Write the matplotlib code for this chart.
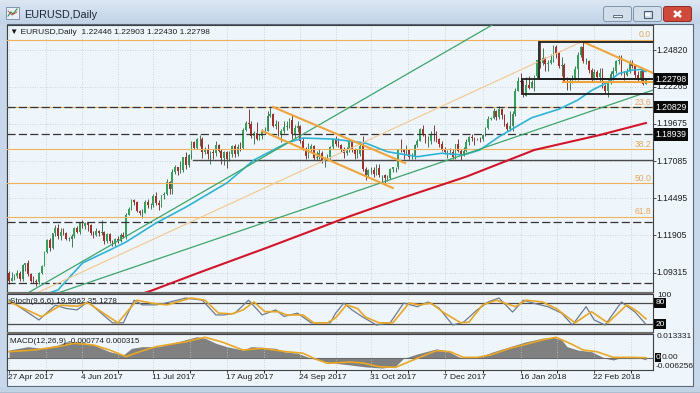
import numpy as np
import pandas as pd
import matplotlib
matplotlib.use("Agg")
import matplotlib.pyplot as plt
from matplotlib.patches import Rectangle, FancyBboxPatch
from matplotlib.colors import LinearSegmentedColormap

plt.rcParams['font.family'] = ['Liberation Sans', 'DejaVu Sans']

# ---------------- data ----------------
DATE_START, DATE_END = "2017-04-27", "2018-03-21"

# prices in 1/10000 (e.g. 10875 = 1.0875)
OPEN = [10930, 10875,
 10895, 10905, 10930, 10885, 10985, 11000, 10925, 10875, 10870, 10865, 10932, 10980, 11075, 11160, 11100, 11205, 11245, 11185, 11215, 11210, 11165, 11165, 11185,
 11240, 11215, 11280, 11255, 11275, 11260, 11210, 11195, 11220, 11210, 11215, 11150, 11200, 11150, 11130, 11165, 11150, 11195, 11180, 11335, 11375, 11440,
 11425, 11360, 11345, 11350, 11425, 11400, 11400, 11465, 11415, 11400, 11470, 11480, 11560, 11515, 11630, 11665, 11640, 11645, 11735, 11680, 11750,
 11840, 11800, 11860, 11865, 11775, 11790, 11755, 11770, 11765, 11820, 11780, 11730, 11770, 11725, 11760, 11815, 11760, 11810, 11800, 11925, 11975, 11970, 11885,
 11905, 11860, 11885, 11915, 11920, 12025, 12035, 11955, 11965, 11890, 11920, 11945, 11950, 11995, 11895, 11940, 11950, 11850, 11790, 11745, 11785,
 11815, 11730, 11735, 11765, 11710, 11730, 11735, 11805, 11860, 11825, 11820, 11795, 11765, 11785, 11845, 11785, 11760, 11760, 11815, 11650, 11610, 11645,
 11645, 11620, 11660, 11610, 11610, 11590, 11590, 11650, 11665, 11665, 11795, 11790, 11770, 11790, 11735, 11735, 11820, 11850, 11935, 11895, 11845, 11845,
 11900, 11895, 11865, 11825, 11795, 11770, 11770, 11775, 11740, 11825, 11780, 11750, 11780, 11840, 11875, 11870, 11860, 11865, 11860, 11890, 11940,
 12005, 12010, 12060, 12015, 12070, 12030, 11965, 11935, 11950, 12035, 12200, 12265, 12260, 12160, 12235, 12220, 12260, 12300, 12410, 12395, 12425, 12385, 12395,
 12415, 12505, 12460, 12370, 12380, 12265, 12255, 12255, 12290, 12350, 12450, 12505, 12405, 12405, 12340, 12285, 12330, 12295, 12320, 12230,
 12195, 12265, 12315, 12335, 12405, 12410, 12310, 12305, 12335, 12390, 12370, 12305, 12285, 12335, 12245]

HIGH = [10945, 10935,
 10920, 10950, 10940, 10990, 11000, 11022, 10930, 10905, 10885, 10935, 10985, 11085, 11165, 11170, 11210, 11265, 11270, 11240, 11240, 11215, 11180, 11200, 11250,
 11255, 11285, 11295, 11285, 11285, 11270, 11220, 11240, 11230, 11295, 11220, 11210, 11210, 11160, 11175, 11190, 11210, 11215, 11345, 11390, 11445, 11445,
 11430, 11370, 11375, 11435, 11445, 11420, 11480, 11490, 11435, 11475, 11490, 11585, 11570, 11655, 11680, 11670, 11710, 11740, 11775, 11760, 11845,
 11845, 11870, 11890, 11875, 11810, 11830, 11780, 11790, 11845, 11830, 11790, 11780, 11780, 11780, 11820, 11830, 11825, 11840, 11940, 11985, 12070, 11985, 11915,
 11980, 11900, 11930, 11945, 12060, 12092, 12040, 11995, 11985, 11935, 11990, 11990, 12010, 12035, 11960, 11985, 11960, 11870, 11805, 11835, 11830,
 11820, 11780, 11790, 11780, 11735, 11755, 11815, 11865, 11880, 11870, 11830, 11810, 11810, 11860, 11855, 11800, 11790, 11830, 11880, 11665, 11655, 11670,
 11670, 11690, 11690, 11615, 11620, 11610, 11660, 11665, 11670, 11795, 11860, 11795, 11820, 11795, 11765, 11830, 11860, 11940, 11960, 11900, 11880, 11920,
 11960, 11915, 11870, 11845, 11805, 11785, 11800, 11790, 11830, 11865, 11790, 11810, 11860, 11880, 11895, 11875, 11870, 11875, 11900, 11945, 12020,
 12015, 12080, 12065, 12090, 12080, 12035, 11980, 12055, 12060, 12215, 12295, 12325, 12275, 12295, 12300, 12270, 12310, 12415, 12537, 12495, 12435, 12415, 12455,
 12520, 12520, 12470, 12430, 12395, 12295, 12290, 12310, 12370, 12470, 12510, 12555, 12425, 12410, 12360, 12350, 12345, 12355, 12355, 12245,
 12275, 12335, 12365, 12415, 12445, 12445, 12335, 12355, 12410, 12415, 12385, 12335, 12355, 12345, 12290]

LOW = [10850, 10870,
 10880, 10895, 10870, 10875, 10945, 10910, 10865, 10860, 10840, 10855, 10925, 10975, 11070, 11085, 11095, 11190, 11165, 11160, 11195, 11160, 11150, 11110, 11175,
 11205, 11200, 11240, 11235, 11225, 11195, 11170, 11185, 11190, 11195, 11130, 11135, 11140, 11120, 11120, 11140, 11145, 11170, 11165, 11330, 11370, 11400,
 11355, 11335, 11310, 11345, 11385, 11375, 11390, 11400, 11370, 11390, 11445, 11475, 11480, 11480, 11620, 11610, 11625, 11630, 11655, 11670, 11720,
 11795, 11790, 11815, 11730, 11760, 11720, 11690, 11720, 11745, 11770, 11690, 11680, 11660, 11710, 11735, 11740, 11745, 11780, 11790, 11915, 11940, 11870, 11825,
 11855, 11855, 11860, 11900, 11915, 12015, 11945, 11935, 11880, 11840, 11905, 11925, 11940, 11865, 11860, 11910, 11835, 11785, 11720, 11730, 11775,
 11715, 11715, 11725, 11695, 11670, 11715, 11720, 11795, 11815, 11805, 11770, 11730, 11750, 11775, 11775, 11725, 11730, 11745, 11640, 11575, 11600, 11620,
 11600, 11615, 11600, 11560, 11555, 11570, 11585, 11630, 11630, 11655, 11775, 11720, 11755, 11720, 11725, 11725, 11810, 11845, 11885, 11835, 11810, 11830,
 11850, 11840, 11805, 11780, 11760, 11730, 11760, 11720, 11725, 11770, 11715, 11745, 11775, 11820, 11845, 11820, 11855, 11840, 11850, 11880, 11935,
 11995, 12005, 11995, 12005, 12000, 11955, 11915, 11920, 11920, 12025, 12195, 12245, 12155, 12160, 12210, 12215, 12200, 12290, 12360, 12375, 12335, 12335, 12385,
 12400, 12425, 12355, 12300, 12260, 12205, 12205, 12250, 12275, 12270, 12430, 12395, 12385, 12320, 12260, 12275, 12285, 12265, 12220, 12185,
 12155, 12245, 12275, 12325, 12385, 12305, 12270, 12300, 12320, 12360, 12290, 12260, 12260, 12240, 12243]

CLOSE = [10875, 10895,
 10905, 10930, 10885, 10985, 10998, 10925, 10875, 10870, 10865, 10932, 10980, 11075, 11160, 11100, 11205, 11245, 11185, 11215, 11210, 11165, 11165, 11185, 11240,
 11215, 11280, 11255, 11275, 11260, 11210, 11195, 11220, 11210, 11215, 11150, 11200, 11150, 11130, 11165, 11150, 11195, 11180, 11335, 11375, 11440, 11425,
 11360, 11345, 11350, 11425, 11400, 11400, 11465, 11415, 11400, 11470, 11480, 11560, 11515, 11630, 11665, 11640, 11645, 11735, 11680, 11750, 11840,
 11800, 11860, 11865, 11775, 11790, 11755, 11770, 11765, 11820, 11780, 11730, 11770, 11725, 11760, 11815, 11760, 11810, 11800, 11925, 11975, 11970, 11885, 11905,
 11860, 11885, 11915, 11920, 12025, 12035, 11955, 11965, 11890, 11920, 11945, 11950, 11995, 11895, 11940, 11950, 11850, 11790, 11745, 11785, 11815,
 11730, 11735, 11765, 11710, 11730, 11735, 11805, 11860, 11825, 11820, 11795, 11765, 11785, 11845, 11785, 11760, 11760, 11815, 11650, 11610, 11645, 11645,
 11620, 11660, 11610, 11610, 11590, 11590, 11650, 11665, 11665, 11795, 11790, 11770, 11790, 11735, 11735, 11820, 11850, 11935, 11895, 11845, 11845, 11900,
 11895, 11865, 11825, 11795, 11770, 11770, 11775, 11740, 11825, 11780, 11750, 11780, 11840, 11875, 11870, 11860, 11865, 11860, 11890, 11940, 12005,
 12010, 12060, 12015, 12070, 12030, 11965, 11935, 11950, 12035, 12200, 12265, 12260, 12160, 12235, 12220, 12260, 12300, 12410, 12395, 12425, 12385, 12395, 12415,
 12505, 12460, 12370, 12380, 12265, 12255, 12255, 12290, 12350, 12450, 12505, 12405, 12405, 12340, 12285, 12330, 12295, 12320, 12230, 12195,
 12265, 12315, 12335, 12405, 12410, 12310, 12305, 12335, 12390, 12370, 12305, 12285, 12335, 12245, 12280]

HEADER_OHLC = "1.22446 1.22903 1.22430 1.22798"

# moving averages (bar number, value)
MA_FAST_BAR = [14, 18, 27, 37, 43, 54, 65, 80, 90, 102, 108, 119, 131, 139, 150, 159, 167, 173, 180, 192, 202, 209, 214, 220, 224, 229, 232, 234]
MA_FAST_VAL = [1.0785, 1.0811, 1.0999, 1.1089, 1.1145, 1.1277, 1.1388, 1.1556, 1.1716, 1.1834, 1.1869, 1.1862, 1.1834, 1.1774,
               1.1739, 1.1763, 1.1751, 1.1786, 1.1878, 1.2010, 1.2070, 1.2134, 1.2200, 1.2258, 1.2318, 1.2342, 1.2347, 1.2332]
MA_SLOW_BAR = [48, 52, 70, 95, 112, 125, 144, 168, 193, 217, 234]
MA_SLOW_VAL = [1.0780, 1.0804, 1.0933, 1.1107, 1.1229, 1.1323, 1.1449, 1.1600, 1.1786, 1.1890, 1.1974]

STOCH_K_BAR = [0, 11, 17, 21, 25, 29, 38, 42, 46, 49, 54, 57, 65, 71, 76, 79, 83, 88, 93, 98, 101, 106, 111, 118, 120, 123, 126,
               130, 135, 140, 145, 150, 154, 158, 163, 167, 172, 176, 180, 185, 189, 193, 198, 203, 207, 212, 215, 219, 225, 230, 234]
STOCH_K_VAL = [88, 32, 73, 64, 60, 83, 24, 24, 87, 74, 74, 78, 93, 87, 46, 46, 51, 87, 46, 60, 42, 51, 24, 24, 51, 79, 60,
               40, 18, 24, 79, 69, 82, 65, 18, 26, 60, 82, 93, 54, 87, 78, 69, 51, 18, 69, 32, 18, 82, 54, 20]
STOCH_D_BAR = [0, 12, 19, 25, 29, 40, 47, 53, 58, 67, 72, 77, 82, 86, 90, 94, 99, 102, 108, 112, 117, 120, 124, 128, 131, 136,
               141, 147, 151, 155, 160, 166, 169, 174, 179, 186, 190, 196, 201, 208, 214, 220, 227, 231, 234]
STOCH_D_VAL = [83, 41, 73, 70, 80, 24, 87, 78, 74, 93, 87, 51, 49, 60, 82, 55, 55, 46, 46, 24, 24, 38, 74, 64, 40, 24,
               24, 79, 74, 79, 51, 24, 26, 74, 87, 69, 87, 82, 64, 24, 55, 24, 74, 55, 35]

MACD_BAR = [0, 7, 12, 18, 21, 26, 31, 37, 42, 45, 49, 55, 62, 69, 72, 76, 80, 86, 89, 98, 101, 106, 111, 115, 120, 125, 131,
            137, 142, 145, 150, 157, 161, 165, 167, 172, 178, 184, 190, 196, 200, 203, 205, 209, 214, 219, 222, 226, 232, 234]
MACD_VAL = [0.0044, 0.0062, 0.0053, 0.0071, 0.0088, 0.0088, 0.0071, 0.0035, 0.0018, 0.0053, 0.0062, 0.0062, 0.0088, 0.0115,
            0.0107, 0.0080, 0.0062, 0.0044, 0.0062, 0.0053, 0.0035, 0.0027, 0.0000, -0.0015, -0.0027, -0.0035, -0.0046,
            -0.0052, -0.0042, 0.0000, 0.0023, 0.0050, 0.0040, 0.0009, 0.0000, 0.0005, 0.0035, 0.0062, 0.0088, 0.0107,
            0.0112, 0.0098, 0.0062, 0.0044, 0.0035, 0.0000, -0.0009, 0.0009, 0.0000, -0.0008]
SIGNAL_BAR = [0, 9, 18, 24, 31, 37, 43, 48, 54, 65, 72, 78, 86, 93, 102, 108, 112, 117, 125, 130, 136, 142, 150, 157, 162,
              167, 172, 177, 184, 189, 196, 201, 206, 211, 216, 222, 229, 234]
SIGNAL_VAL = [0.0035, 0.0044, 0.0062, 0.0080, 0.0071, 0.0044, 0.0009, 0.0035, 0.0062, 0.0088, 0.0112, 0.0088, 0.0044, 0.0053,
              0.0035, 0.0027, 0.0000, -0.0027, -0.0020, -0.0025, -0.0045, -0.0048, 0.0000, 0.0041, 0.0035, 0.0005, 0.0005,
              0.0018, 0.0053, 0.0071, 0.0098, 0.0112, 0.0080, 0.0044, 0.0035, 0.0005, 0.0005, 0.0003]

DATE_LABELS = ["27 Apr 2017", "4 Jun 2017", "11 Jul 2017", "17 Aug 2017", "24 Sep 2017",
               "31 Oct 2017", "7 Dec 2017", "16 Jan 2018", "22 Feb 2018"]
PRICE_TICKS = [1.24820, 1.22265, 1.19675, 1.17085, 1.14495, 1.11905, 1.09315]
MARKED_PRICES = [1.22798, 1.20829, 1.18939]

FIB_HIGH, FIB_LOW = 1.2555, 1.0555
FIB_LEVELS = [0.0, 23.6, 38.2, 50.0, 61.8]
DASHED_LEVELS = [1.20829, 1.18939, 1.1286, 1.0856]
SUPPORT_LEVEL, SUPPORT_FROM_BAR = 1.1713, 67.6

# drawn objects: (bar numbers), (prices)
GREEN_STEEP = ([5, 190], [1.0769, 1.2793])
GREEN_LOW = ([18, 240], [1.0790, 1.2225])
TAN_LINE = ([5, 211], [1.0745, 1.2545])
CHANNEL_UP = ([97, 145.5], [1.2085, 1.1695])
CHANNEL_DN = ([93, 141], [1.1918, 1.1521])
TRI_UP = ([211, 240], [1.2538, 1.2293])
TRI_DN = ([203.5, 240], [1.2257, 1.2257])
BOX_A = (194.7, 1.2278, 1.2538)   # left bar, bottom, top
BOX_B = (188.5, 1.2176, 1.2278)

STOCH_LEVELS = [20, 80]

# ---------------- layout ----------------
W, H = 700, 393
PX0, PXB = 9.0, 2.722       # pixel of bar 0, pixels per bar
BG = '#eef5fb'


def fx(px):
    return px / W


def fy(py):
    return 1 - py / H


N = min(len(OPEN), len(HIGH), len(LOW), len(CLOSE))
dates = pd.bdate_range(DATE_START, DATE_END)[:N]
o = np.array(OPEN[:N]) / 1e4
h = np.array(HIGH[:N]) / 1e4
l = np.array(LOW[:N]) / 1e4
c = np.array(CLOSE[:N]) / 1e4
idx = np.arange(N)

label_bars = [int(dates.searchsorted(pd.Timestamp(d))) for d in DATE_LABELS]
grid_bars = []
for a, b in zip(label_bars, label_bars[1:] + [label_bars[-1] + (label_bars[-1] - label_bars[-2])]):
    grid_bars += [a, (a + b) / 2]

xlim = ((7 - PX0) / PXB, (653 - PX0) / PXB)

fig = plt.figure(figsize=(7.0, 3.93), dpi=100)
fig.patch.set_facecolor('#c8d7e9')

# background / frame axes in pixel coordinates
axb = fig.add_axes([0, 0, 1, 1], zorder=-5)
axb.set_xlim(0, W)
axb.set_ylim(H, 0)
axb.axis('off')
grad = np.linspace(0, 1, 50).reshape(-1, 1)
axb.imshow(grad, aspect='auto', extent=[0, W, 24, 0],
           cmap=LinearSegmentedColormap.from_list('t', ['#dbe6f2', '#c2d3e7']), zorder=0)
axb.add_patch(Rectangle((6.5, 24), 686, 362, facecolor=BG, edgecolor='#59687a', lw=0.8, zorder=1))
axb.add_patch(Rectangle((0, 387), W, 6, facecolor='#c3d3e6', edgecolor='none', zorder=1))
axb.plot([0, W], [392.5, 392.5], color='#4e6a80', lw=1.0, zorder=2)

# ---------------- main price pane ----------------
ax = fig.add_axes([fx(7), fy(292), fx(653) - fx(7), fy(25) - fy(292)])
ax.set_facecolor(BG)
ax.set_xlim(*xlim)
ax.set_ylim(1.07968, 1.26562)

ax.set_yticks(PRICE_TICKS)
ax.set_xticks(grid_bars)
ax.tick_params(axis='y', left=False, right=True, labelleft=False, labelright=False, length=2.5, color='#303030', width=0.6)
ax.tick_params(axis='x', bottom=False, labelbottom=False)
ax.grid(True, color='#bfc9d4', lw=0.6, ls=(0, (1, 2)))
for s in ax.spines.values():
    s.set_color('#404040')
    s.set_linewidth(0.8)

up = c >= o
body = np.maximum(np.abs(c - o), 0.00012)
bot = np.minimum(o, c)
ax.vlines(idx[up], l[up], h[up], color='#23653b', lw=0.6, zorder=4)
ax.vlines(idx[~up], l[~up], h[~up], color='#6a211d', lw=0.6, zorder=4)
ax.bar(idx[up], body[up], bottom=bot[up], width=0.62, color='#35a05a', lw=0, zorder=5)
ax.bar(idx[~up], body[~up], bottom=bot[~up], width=0.62, color='#a3302a', lw=0, zorder=5)

# fibonacci levels
for lv in FIB_LEVELS:
    p = FIB_HIGH - lv / 100 * (FIB_HIGH - FIB_LOW)
    ax.axhline(p, color='#f1b25c', lw=0.8, zorder=6)
    ax.text(0.997, p + 0.0004, f"{lv:.1f}", transform=ax.get_yaxis_transform(), ha='right', va='bottom',
            fontsize=6.2, color='#e8a85c', zorder=9)

for p in DASHED_LEVELS:
    ax.axhline(p, color='#333333', lw=0.9, ls=(0, (6.5, 2.6)), zorder=7)
ax.plot([SUPPORT_FROM_BAR, xlim[1]], [SUPPORT_LEVEL, SUPPORT_LEVEL], color='#4a4a4a', lw=1.0, zorder=7)

# moving averages
ax.plot(MA_FAST_BAR, MA_FAST_VAL, color='#2fb3d6', lw=1.2, zorder=8, solid_capstyle='round')
ax.plot(MA_SLOW_BAR, MA_SLOW_VAL, color='#d2162a', lw=1.5, zorder=8)

# trendlines and objects
ax.plot(*GREEN_STEEP, color='#3ea56b', lw=0.9, zorder=8)
ax.plot(*GREEN_LOW, color='#3ea56b', lw=0.9, zorder=8)
ax.plot(*TAN_LINE, color='#f2c88c', lw=0.8, zorder=8)
ax.plot(*CHANNEL_UP, color='#f0a53c', lw=1.5, zorder=9)
ax.plot(*CHANNEL_DN, color='#f0a53c', lw=1.5, zorder=9)
ax.plot(*TRI_UP, color='#f0a53c', lw=1.5, zorder=9)
ax.plot(*TRI_DN, color='#f0a53c', lw=1.5, zorder=9)
for bx in (BOX_A, BOX_B):
    ax.add_patch(Rectangle((bx[0], bx[1]), 60, bx[2] - bx[1], fill=False, edgecolor='#1e1e1e', lw=1.3, zorder=9))

ytr = ax.get_yaxis_transform()
for p in PRICE_TICKS:
    ax.text(1.006, p, f"{p:.5f}", transform=ytr, ha='left', va='center', fontsize=6.2, color='#1e1e1e', clip_on=False)
for p in MARKED_PRICES:
    ax.text(1.004, p, f"{p:.5f}", transform=ytr, ha='left', va='center', fontsize=6.2, color='white', clip_on=False,
            bbox=dict(facecolor='#0a0a0a', edgecolor='none', pad=1.2), zorder=20)

# ---------------- stochastic pane ----------------
axs = fig.add_axes([fx(7), fy(332), fx(653) - fx(7), (332 - 294) / H])
axs.set_facecolor(BG)
axs.set_xlim(*xlim)
axs.set_ylim(-1.4, 104.2)
axs.set_xticks(grid_bars)
axs.set_yticks([])
axs.tick_params(axis='x', bottom=False, labelbottom=False)
axs.grid(True, axis='x', color='#bfc9d4', lw=0.6, ls=(0, (1, 2)))
for s in axs.spines.values():
    s.set_color('#404040')
    s.set_linewidth(0.8)
for lv in STOCH_LEVELS:
    axs.axhline(lv, color='#4a4a4a', lw=0.9)
axs.plot(STOCH_K_BAR, STOCH_K_VAL, color='#6e7c8e', lw=0.9)
axs.plot(STOCH_D_BAR, STOCH_D_VAL, color='#e9a726', lw=1.2)
axs.text(0.005, 0.80, "Stoch(9,6,6) 19.9962 35.1278", transform=axs.transAxes, fontsize=5.8, va='center',
         color='#1e1e1e')
str_ = axs.get_yaxis_transform()
axs.text(1.006, 100, "100", transform=str_, ha='left', va='center', fontsize=6.0, color='#1e1e1e', clip_on=False)
for lv in STOCH_LEVELS:
    axs.text(1.004, lv, f"{lv}", transform=str_, ha='left', va='center', fontsize=6.0, color='white', clip_on=False,
             bbox=dict(facecolor='#0a0a0a', edgecolor='none', pad=1.0))

# ---------------- MACD pane ----------------
axm = fig.add_axes([fx(7), fy(370), fx(653) - fx(7), (370 - 334) / H])
axm.set_facecolor(BG)
axm.set_xlim(*xlim)
axm.set_ylim(-0.00624, 0.01295)
axm.set_xticks(label_bars)
axm.set_yticks([])
axm.tick_params(axis='x', length=2.5, color='#303030', width=0.6, labelbottom=False)
axm.set_xticks(grid_bars, minor=True)
axm.grid(True, axis='x', which='both', color='#bfc9d4', lw=0.6, ls=(0, (1, 2)))
for s in axm.spines.values():
    s.set_color('#404040')
    s.set_linewidth(0.8)
axm.fill_between(MACD_BAR, 0, MACD_VAL, color='#808080', lw=0)
axm.axhline(0, color='#6a6a6a', lw=0.8)
axm.plot(SIGNAL_BAR, SIGNAL_VAL, color='#e9a726', lw=1.2)
axm.text(0.005, 0.79, "MACD(12,26,9) -0.000774 0.000315", transform=axm.transAxes, fontsize=5.8, va='center',
         color='#1e1e1e')
mtr = axm.get_yaxis_transform()
axm.text(1.006, 0.0116, "0.013331", transform=mtr, ha='left', va='center', fontsize=6.0, color='#1e1e1e', clip_on=False)
axm.text(1.013, 0.0003, "0.00", transform=mtr, ha='left', va='center', fontsize=6.0, color='#1e1e1e', clip_on=False)
axm.text(1.004, 0.0003, "0", transform=mtr, ha='left', va='center', fontsize=6.0, color='white', clip_on=False,
         bbox=dict(facecolor='#0a0a0a', edgecolor='none', pad=0.8), zorder=20)
axm.text(1.004, -0.0045, "-0.006256", transform=mtr, ha='left', va='center', fontsize=6.0, color='#1e1e1e',
         clip_on=False)

xtr = axm.get_xaxis_transform()
for b, lab in zip(label_bars, DATE_LABELS):
    axm.text(b - 0.4, -0.21, lab, transform=xtr, ha='left', va='center', fontsize=6.0, color='#1e1e1e', clip_on=False)

# ---------------- overlay: separators, title bar, header ----------------
axo = fig.add_axes([0, 0, 1, 1], zorder=10)
axo.set_xlim(0, W)
axo.set_ylim(H, 0)
axo.axis('off')
axo.patch.set_alpha(0)
axo.add_patch(Rectangle((7, 291.8), 646, 2.4, facecolor='#6f6f6f', edgecolor='none'))
axo.add_patch(Rectangle((7, 331.8), 646, 2.4, facecolor='#6f6f6f', edgecolor='none'))

# title bar
axo.add_patch(Rectangle((6, 7), 13, 12, facecolor='#e9eff6', edgecolor='#7f93ad', lw=0.7))
axo.plot([8, 11, 13, 17], [16, 12, 14, 9], color='#3a8a4a', lw=0.8)
axo.plot([8, 12, 17], [11, 15, 12], color='#c04040', lw=0.6)
axo.text(24, 14.5, "EURUSD,Daily", fontsize=7.8, va='center', ha='left', color='#1b2838')

for x0, kind in ((603, 'min'), (633, 'max'), (663, 'close')):
    if kind == 'close':
        fc, ec = '#cf4a3a', '#8e2d22'
    else:
        fc, ec = '#d3deeb', '#8194ad'
    axo.add_patch(FancyBboxPatch((x0 + 0.5, 6.5), 28, 15, boxstyle='round,pad=0,rounding_size=2.5',
                                 facecolor=fc, edgecolor=ec, lw=0.7))
    cx, cy = x0 + 14.5, 14
    if kind == 'min':
        axo.add_patch(Rectangle((cx - 4.5, cy + 0.5), 9, 2.6, facecolor='#f4f7fb', edgecolor='#4b5c72', lw=0.6))
    elif kind == 'max':
        axo.add_patch(Rectangle((cx - 4, cy - 3.5), 8, 7, facecolor='none', edgecolor='#4b5c72', lw=0.8))
        axo.add_patch(Rectangle((cx - 2.5, cy - 1.5), 5, 3.5, facecolor='#f4f7fb', edgecolor='none'))
    else:
        axo.plot([cx - 3.5, cx + 3.5], [cy - 3, cy + 3], color='white', lw=1.8, solid_capstyle='butt')
        axo.plot([cx - 3.5, cx + 3.5], [cy + 3, cy - 3], color='white', lw=1.8, solid_capstyle='butt')

axo.text(10, 32.5, "\u25bc EURUSD,Daily  " + HEADER_OHLC, fontsize=6.0, va='center', ha='left', color='#1e1e1e')

fig.savefig("out.png", dpi=100, facecolor=fig.get_facecolor())
